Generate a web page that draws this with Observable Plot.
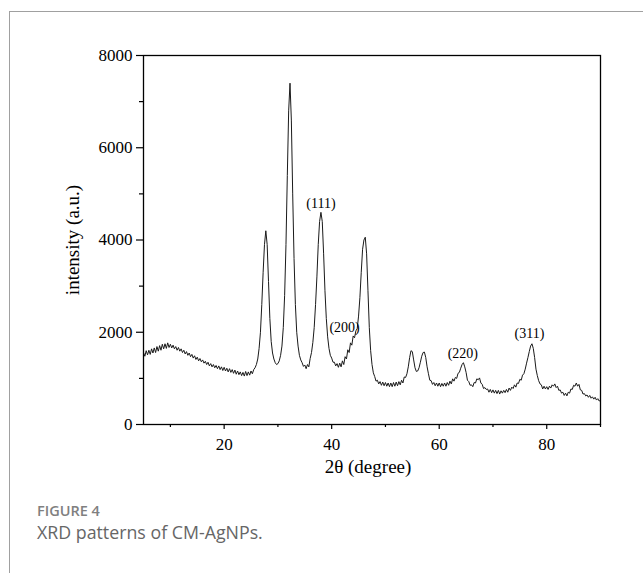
<!DOCTYPE html>
<html><head><meta charset="utf-8">
<script src="https://cdn.jsdelivr.net/npm/d3@7"></script>
<script src="https://cdn.jsdelivr.net/npm/@observablehq/plot@0.6"></script>
<style>
html,body{margin:0;padding:0;background:#fff;width:643px;height:573px;overflow:hidden;}
#card{position:absolute;left:9px;top:11px;width:640px;height:570px;border-top:1px solid #a0a0a0;border-left:1px solid #a0a0a0;}
#chart{position:absolute;left:0;top:0;}
#fig{position:absolute;left:37px;top:502px;font-family:"Open Sans";font-size:14.5px;font-weight:600;color:#808080;line-height:18px;}
#cap{position:absolute;left:37px;top:521px;font-family:"Open Sans";font-size:17.8px;color:#666;line-height:22px;}
</style></head><body>
<div id="card"></div><div id="chart"></div>
<div id="fig">FIGURE 4</div><div id="cap">XRD patterns of CM-AgNPs.</div>
<script>
// 2θ sampling grid: start 5°, step 0.25°
const startAngle = 5, angleStep = 0.25;
// intensity (a.u.), 4 samples per degree
const intensity = [
 1560,1480,1600,1510, 1610,1520,1640,1550, 1660,1560,1690,1590, 1710,1610,1740,1640,
 1750,1650,1770,1670, 1740,1660,1720,1640, 1690,1610,1670,1590, 1640,1560,1610,1530,
 1580,1500,1550,1470, 1520,1440,1490,1410, 1460,1380,1430,1360, 1400,1330,1370,1300,
 1350,1270,1320,1250, 1300,1230,1280,1210, 1270,1190,1250,1170, 1240,1160,1220,1140,
 1210,1130,1190,1110, 1180,1090,1160,1080, 1140,1060,1130,1050, 1150,1060,1140,1070,
 1160,1100,1190,1230, 1300,1420,1650,2000, 2600,3300,3900,4200, 3900,3100,2300,1800,
 1550,1420,1340,1300, 1320,1380,1500,1700, 2100,2800,3900,5400, 6800,7400,6600,5000,
 3600,2600,2000,1700, 1500,1400,1340,1260, 1290,1210,1300,1250, 1430,1560,1780,2100,
 2600,3200,3900,4400, 4600,4400,3700,2900, 2300,1900,1650,1500, 1440,1350,1350,1270,
 1320,1240,1330,1250, 1380,1300,1470,1420, 1620,1560,1770,1720, 1920,1880,2030,2080,
 2350,2750,3300,3800, 4000,4060,3700,2900, 2100,1600,1300,1120, 1040,940,960,880,
 930,850,920,840, 910,830,900,820, 900,820,910,830, 920,840,930,860,
 960,900,1030,1020, 1100,1250,1450,1600, 1580,1400,1230,1150, 1160,1230,1350,1480,
 1560,1570,1450,1250, 1100,960,950,870, 910,840,900,830, 900,820,890,830,
 900,830,910,850, 940,880,990,940, 1020,1000,1110,1130, 1220,1300,1340,1250,
 1130,960,930,850, 860,820,910,900, 990,970,1010,900, 870,780,800,760,
 770,700,760,690, 750,680,740,670, 740,660,730,680, 740,690,760,700,
 790,740,810,780, 860,810,900,890, 980,960,1070,1100, 1200,1330,1450,1580,
 1700,1750,1650,1450, 1200,1060,950,880, 860,770,830,770, 820,760,830,790,
 860,830,880,800, 830,740,750,680, 700,630,680,620, 700,680,770,760,
 850,830,900,830, 870,750,740,660, 670,620,640,590, 630,570,600,550,
 590,530,560,510, 520
];
const yMajor = [0, 2000, 4000, 6000, 8000];
const yMinor = [1000, 3000, 5000, 7000];
const xMajor = [20, 40, 60, 80];
const xMinor = [10, 30, 50, 70, 90];
const peakLabels = ["(111)", "(200)", "(220)", "(311)"];
const peakAngles = [38.0, 42.4, 64.4, 76.8];
const peakHeights = [4800, 2110, 1530, 1966];

const data = intensity.map((v, i) => ({t: startAngle + i * angleStep, v}));

const chart = Plot.plot({
  width: 643, height: 480,
  marginLeft: 143, marginRight: 43, marginTop: 55, marginBottom: 56,
  style: {fontFamily: "'Liberation Serif', 'Times New Roman', serif", fontSize: "17px", color: "#000", background: "transparent"},
  x: {domain: [5, 90]},
  y: {domain: [0, 8000]},
  marks: [
    Plot.line(data, {x: "t", y: "v", stroke: "#1a1a1a", strokeWidth: 1}),
    Plot.frame({stroke: "#000", strokeWidth: 1.3}),
    Plot.axisY({ticks: yMajor, tickSize: 7, tickPadding: 4, tickFormat: d3.format("d"), label: null, fontSize: 17, strokeWidth: 1.2}),
    Plot.axisY({ticks: yMinor, tickSize: 4, tickFormat: () => "", label: null, strokeWidth: 1.2}),
    Plot.axisX({ticks: xMajor, tickSize: 5, tickPadding: 8, tickFormat: d3.format("d"), label: null, fontSize: 17, strokeWidth: 1.2}),
    Plot.axisX({ticks: xMinor, tickSize: 3, tickFormat: () => "", label: null, strokeWidth: 1.2}),
    Plot.text(peakLabels, {x: (d, i) => peakAngles[i], y: (d, i) => peakHeights[i], text: d => d, fontSize: 14, lineAnchor: "middle"}),
    Plot.text(["2θ (degree)"], {frameAnchor: "bottom", dy: 42, dx: -4, fontSize: 19, lineAnchor: "middle", textAnchor: "middle"}),
    Plot.text(["intensity (a.u.)"], {frameAnchor: "left", rotate: -90, dx: -71, fontSize: 19, lineAnchor: "middle", textAnchor: "middle"})
  ]
});
document.getElementById("chart").appendChild(chart);
</script>
</body></html>
